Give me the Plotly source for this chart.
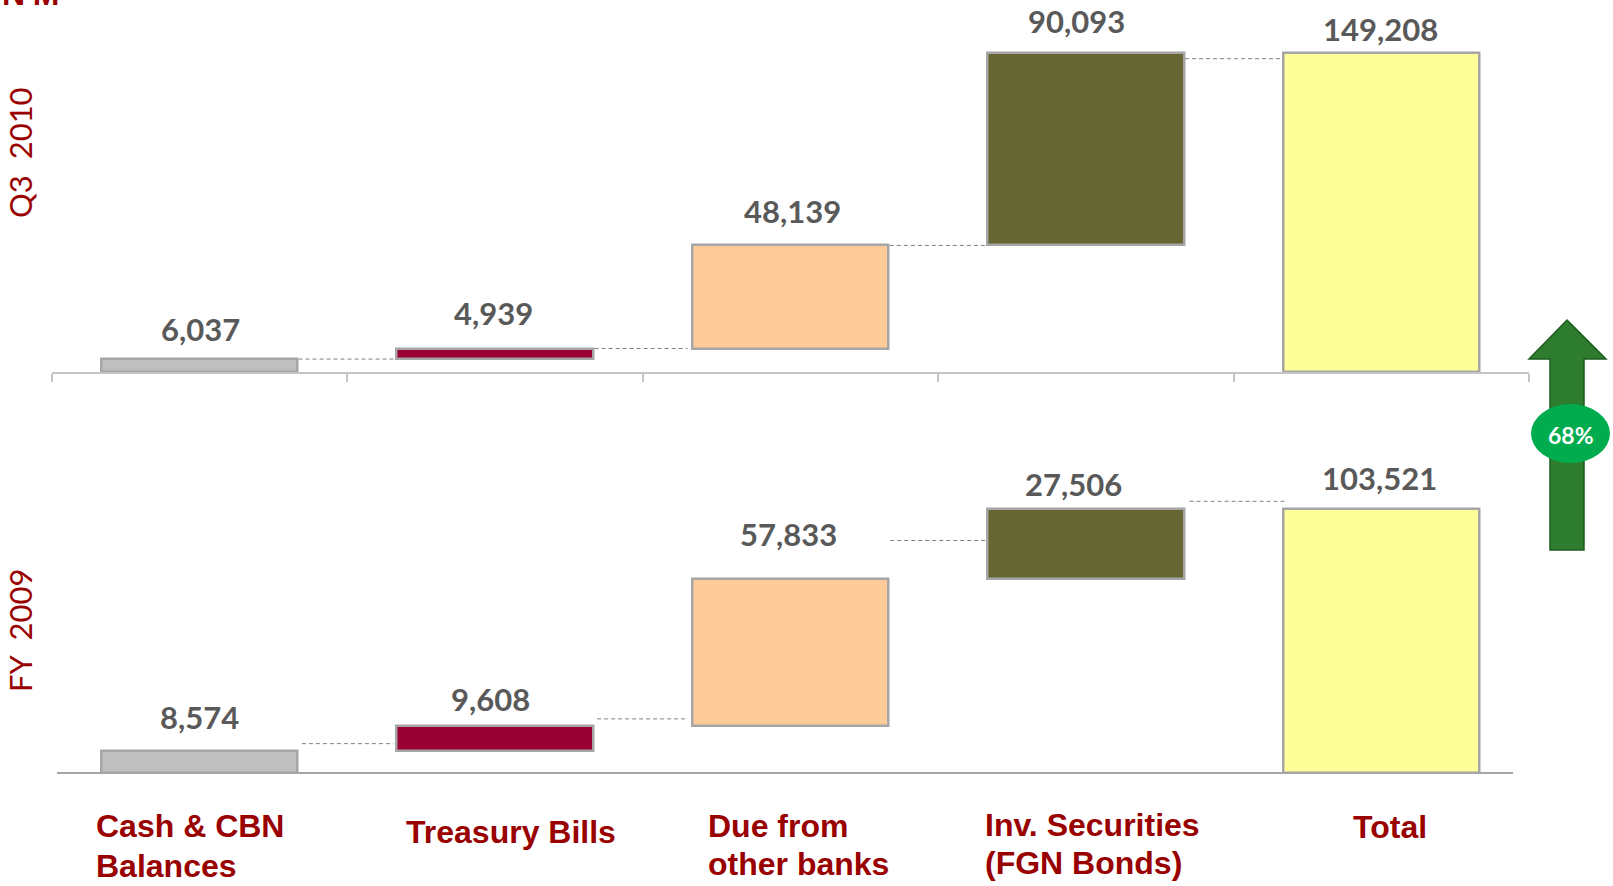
import plotly.graph_objects as go

# Banking liquid assets, N'M
categories = ["Cash & CBN<br>Balances", "Treasury Bills", "Due from<br>other banks",
              "Inv. Securities<br>(FGN Bonds)", "Total"]
q3_2010 = [6037, 4939, 48139, 90093, 149208]
fy_2009 = [8574, 9608, 57833, 27506, 103521]
bar_colors = ["#BFBFBF", "#990033", "#FFCC99", "#666633", "#FFFF99"]

# Connector levels and spans between neighbouring bars
q3_links = [6037, 10976, 59115, 146300]
q3_link_x = [(0.336, 0.666), (1.338, 1.652), (2.337, 2.661), (3.336, 3.660)]
fy_links = [11322, 21027, 90985, 106350]
fy_link_x = [(0.346, 0.656), (1.345, 1.652), (2.337, 2.661), (3.350, 3.677)]

W, H = 1613, 886
px = lambda x: x / W
py = lambda y: 1 - y / H


def floating_base(values):
    """Running start of each step; the last bar is a total and starts at zero."""
    bases, run = [], 0
    for v in values[:-1]:
        bases.append(run)
        run += v
    return bases + [0]


fig = go.Figure()
for vals, xa, ya, links, spans in [
    (q3_2010, "x", "y", q3_links, q3_link_x),
    (fy_2009, "x2", "y2", fy_links, fy_link_x),
]:
    fig.add_bar(x=list(range(5)), y=vals, base=floating_base(vals), width=0.665,
                xaxis=xa, yaxis=ya, showlegend=False,
                marker=dict(color=bar_colors, line=dict(color="#A6A6A6", width=2.5)))
    for level, (x0, x1) in zip(links, spans):
        fig.add_scatter(x=[x0, x1], y=[level, level], mode="lines", xaxis=xa, yaxis=ya,
                        showlegend=False,
                        line=dict(color="#808080", width=1, dash="4px,3px"))

annotations = []


def label(text, x, y, size, color, family, bold=False, angle=0, align="center", xanchor="center"):
    annotations.append(dict(
        text=f"<b>{text}</b>" if bold else text, x=px(x), y=py(y), xref="paper", yref="paper",
        xanchor=xanchor, yanchor="middle", align=align, textangle=angle, showarrow=False,
        font=dict(size=size, color=color, family=family)))


# Value labels above each step
q3_label_pos = [(200, 329), (493, 313), (792, 211), (1076, 21), (1380, 29)]
fy_label_pos = [(199, 717), (490, 699), (788, 534), (1073, 484), (1379, 478)]
for vals, positions in [(q3_2010, q3_label_pos), (fy_2009, fy_label_pos)]:
    for v, (x, y) in zip(vals, positions):
        label(f"{v:,}", x, y, 31, "#595959", "Lato", bold=True)

# Category captions below the lower panel, one position per line of text
caption_x = [94, 404, 706, 983, 1351]
caption_line_y = [(826, 866), (832,), (826, 864), (825, 863), (827,)]
for text, x, line_ys in zip(categories, caption_x, caption_line_y):
    for line, y in zip(text.split("<br>"), line_ys):
        label(line, x, y, 32, "#990000", "Liberation Sans", bold=True, align="left", xanchor="left")

# Period names and unit
label("Q3  2010", 20, 153, 31, "#990000", "Lato", angle=-90)
label("FY  2009", 20, 631, 31, "#990000", "Lato", angle=-90)
label("N'M", 0, -6, 32, "#990000", "Liberation Sans", bold=True, xanchor="left")

# Growth badge on the arrow
label("68%", 1571, 435, 23, "#FFFFFF", "Lato", bold=True)

arrow_pts = [(1567, 320), (1606, 359), (1584, 359), (1584, 550), (1550, 550), (1550, 359), (1529, 359)]
arrow_path = "M " + " L ".join(f"{px(x)},{py(y)}" for x, y in arrow_pts) + " Z"

fig.update_layout(
    width=W, height=H, autosize=False, margin=dict(l=0, r=0, t=0, b=0),
    paper_bgcolor="#FFFFFF", plot_bgcolor="#FFFFFF", bargap=0, annotations=annotations,
    xaxis=dict(domain=[px(51.5), px(1529)], range=[-0.5, 4.5], anchor="y", tickmode="array",
               tickvals=[-0.5, 0.5, 1.5, 2.5, 3.5, 4.5], ticktext=[""] * 6, ticks="outside",
               ticklen=8, tickwidth=1.5, tickcolor="#C4C4C4", showline=True,
               linecolor="#C4C4C4", linewidth=1.5, showgrid=False, zeroline=False),
    yaxis=dict(domain=[py(372), 1], range=[0, 149208 * 372 / 319.5], anchor="x",
               visible=False, showgrid=False),
    xaxis2=dict(domain=[px(56.5), px(1513)], range=[-0.4845, 4.4445], anchor="free",
                position=py(772.5), showticklabels=False, ticks="", showline=True,
                linecolor="#A6A6A6", linewidth=2, showgrid=False, zeroline=False),
    yaxis2=dict(domain=[py(772.5), py(400)], range=[0, 103521 * 372.5 / 264], anchor="x2",
                visible=False, showgrid=False),
    shapes=[
        dict(type="path", path=arrow_path, xref="paper", yref="paper",
             fillcolor="#2E7D2E", line=dict(color="#1E5B1E", width=1.5)),
        dict(type="circle", xref="paper", yref="paper", x0=px(1531), x1=px(1610),
             y0=py(463), y1=py(404), fillcolor="#00AC4E", line=dict(width=0)),
    ],
)

fig.write_html("out.html", config=dict(displayModeBar=False))
